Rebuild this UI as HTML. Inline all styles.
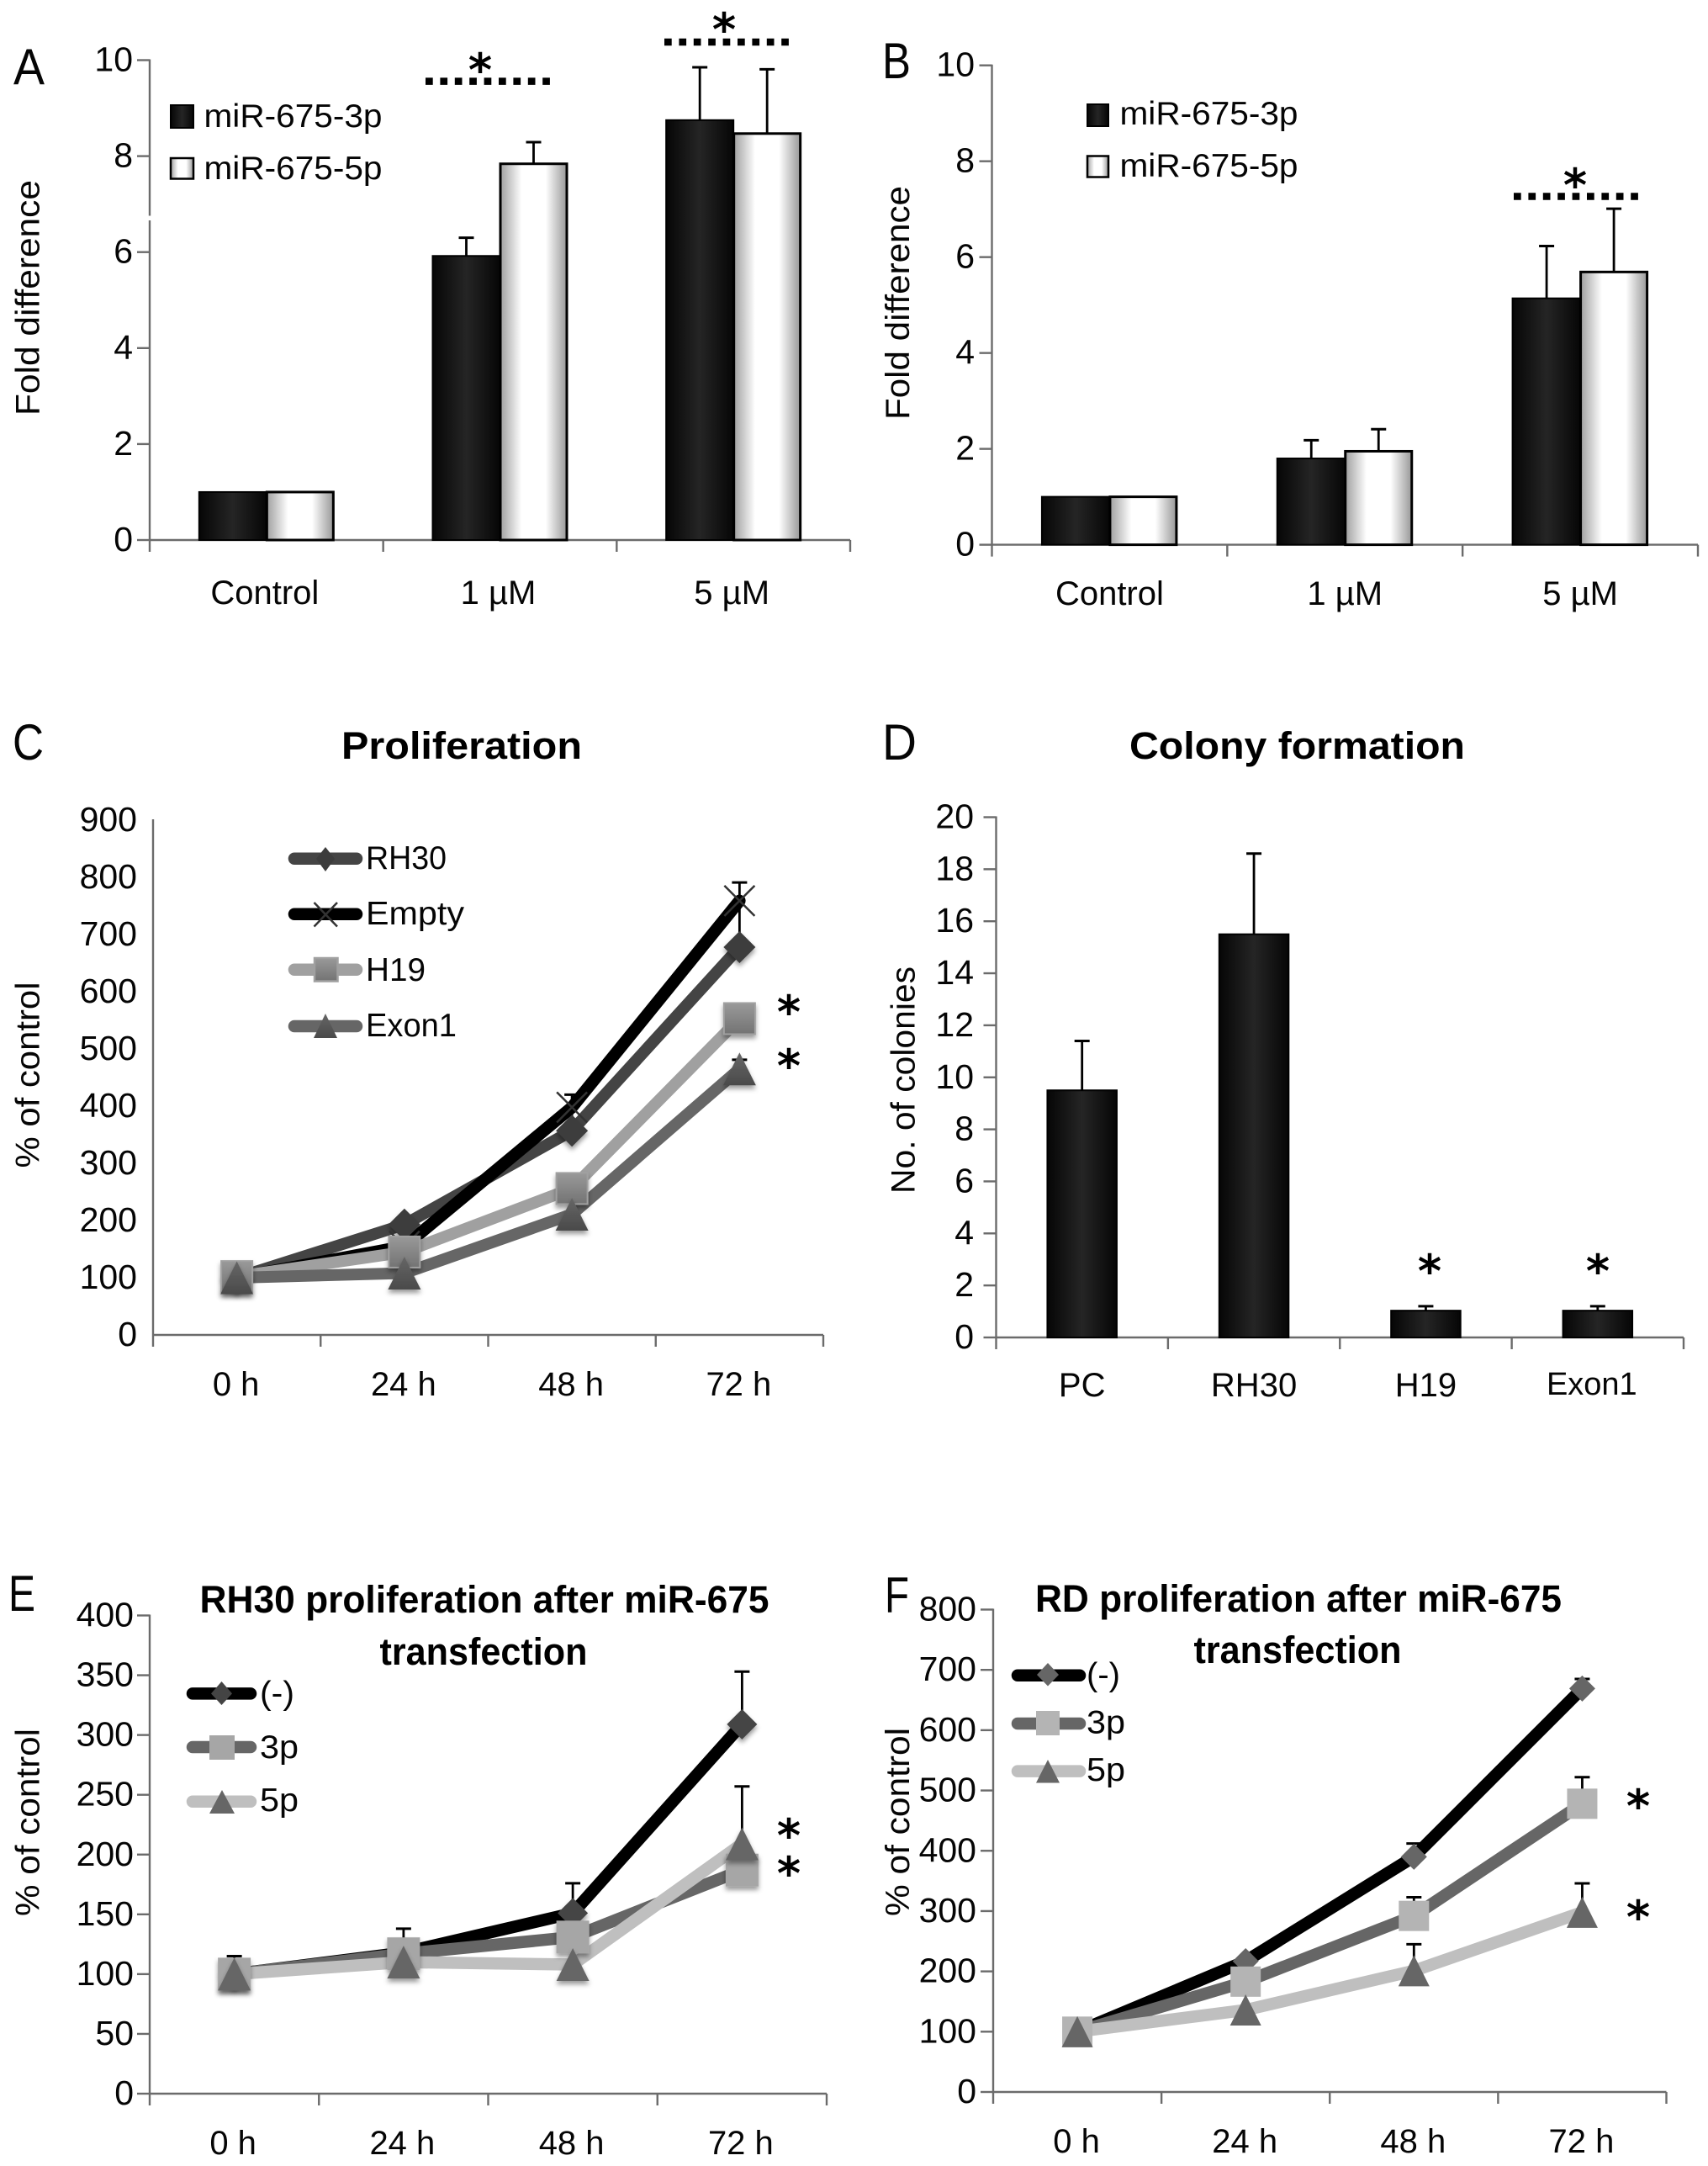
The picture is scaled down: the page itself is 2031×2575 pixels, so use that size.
<!DOCTYPE html>
<html lang="en">
<head>
<meta charset="utf-8">
<title>miR-675 figure panels A-F</title>
<style>
html,body{margin:0;padding:0;background:#fff;}
svg{display:block;}
text{font-family:"Liberation Sans",sans-serif;fill:#050505;}
.letter{font-size:60px;}
.tick{font-size:41px;}
.cat{font-size:40px;}
.ylab{font-size:40px;text-anchor:middle;}
.leg{font-size:39px;}
.title{font-size:45px;font-weight:bold;text-anchor:middle;fill:#000;}
.star{font-family:"DejaVu Sans",sans-serif;font-weight:bold;font-size:54px;text-anchor:middle;fill:#000;}
.dots{stroke:#000;stroke-width:8.5;stroke-dasharray:8.7 8.7;fill:none;}
.legline{stroke-width:14.5;stroke-linecap:round;fill:none;}
</style>
</head>
<body>
<svg id="figure" xmlns="http://www.w3.org/2000/svg" width="2031" height="2575" viewBox="0 0 2031 2575">
<defs>
<linearGradient id="gradDark" x1="0" x2="1" y1="0" y2="0"><stop offset="0" stop-color="#060606"/><stop offset=".5" stop-color="#252525"/><stop offset="1" stop-color="#060606"/></linearGradient>
<linearGradient id="gradLight" x1="0" x2="1" y1="0" y2="0"><stop offset="0" stop-color="#a0a0a0"/><stop offset=".32" stop-color="#fff"/><stop offset=".68" stop-color="#fff"/><stop offset="1" stop-color="#989898"/></linearGradient>
<linearGradient id="gradSquare" x1="0" x2="0" y1="0" y2="1"><stop offset="0" stop-color="#999"/><stop offset="1" stop-color="#737373"/></linearGradient>
<linearGradient id="gradTriangle" x1="0" x2="0" y1="0" y2="1"><stop offset="0" stop-color="#666"/><stop offset="1" stop-color="#4a4a4a"/></linearGradient>
<filter id="markerShadow" x="-40%" y="-40%" width="180%" height="190%"><feDropShadow dx="0" dy="4" stdDeviation="3" flood-color="#000" flood-opacity=".4"/></filter>
</defs>

<g id="charts"></g>

<rect x="174" y="256.5" width="8" height="5.5" fill="#fff"/>

<!-- Panel letters -->
<text class="letter" x="16" y="100" textLength="37" lengthAdjust="spacingAndGlyphs">A</text>
<text class="letter" x="1049" y="93" textLength="34" lengthAdjust="spacingAndGlyphs">B</text>
<text class="letter" x="15" y="903" textLength="37" lengthAdjust="spacingAndGlyphs">C</text>
<text class="letter" x="1049" y="903" textLength="41" lengthAdjust="spacingAndGlyphs">D</text>
<text class="letter" x="10" y="1915" textLength="32" lengthAdjust="spacingAndGlyphs">E</text>
<text class="letter" x="1052" y="1917" textLength="29" lengthAdjust="spacingAndGlyphs">F</text>

<!-- Titles -->
<text class="title" x="549" y="902" textLength="286" lengthAdjust="spacingAndGlyphs">Proliferation</text>
<text class="title" x="1542.5" y="902" textLength="399" lengthAdjust="spacingAndGlyphs">Colony formation</text>
<text class="title" x="576" y="1917" textLength="677" lengthAdjust="spacingAndGlyphs">RH30 proliferation after miR-675</text>
<text class="title" x="575" y="1979" textLength="247" lengthAdjust="spacingAndGlyphs">transfection</text>
<text class="title" x="1544" y="1916" textLength="626" lengthAdjust="spacingAndGlyphs">RD proliferation after miR-675</text>
<text class="title" x="1543" y="1977" textLength="247" lengthAdjust="spacingAndGlyphs">transfection</text>

<!-- Y axis titles -->
<text class="ylab" transform="translate(46.5,354) rotate(-90)" textLength="280" lengthAdjust="spacingAndGlyphs">Fold difference</text>
<text class="ylab" transform="translate(1081,360) rotate(-90)" textLength="278" lengthAdjust="spacingAndGlyphs">Fold difference</text>
<text class="ylab" transform="translate(46.5,1278) rotate(-90)" textLength="221" lengthAdjust="spacingAndGlyphs">% of control</text>
<text class="ylab" transform="translate(1087.5,1284) rotate(-90)" textLength="270" lengthAdjust="spacingAndGlyphs">No. of colonies</text>
<text class="ylab" transform="translate(46.5,2166.5) rotate(-90)" textLength="223" lengthAdjust="spacingAndGlyphs">% of control</text>
<text class="ylab" transform="translate(1081,2166) rotate(-90)" textLength="224" lengthAdjust="spacingAndGlyphs">% of control</text>

<!-- Significance bars and asterisks -->
<line class="dots" x1="506" y1="96.6" x2="654" y2="96.6"/>
<line class="dots" x1="790" y1="50" x2="938" y2="50"/>
<line class="dots" x1="1800" y1="233.5" x2="1948" y2="233.5"/>
<text class="star" x="571" y="102">*</text>
<text class="star" x="861" y="54">*</text>
<text class="star" x="1873" y="239">*</text>
<text class="star" x="938" y="1222">*</text>
<text class="star" x="938" y="1286">*</text>
<text class="star" x="1700" y="1530">*</text>
<text class="star" x="1900" y="1530">*</text>
<text class="star" x="938" y="2201">*</text>
<text class="star" x="938" y="2246">*</text>
<text class="star" x="1948" y="2166">*</text>
<text class="star" x="1948" y="2298">*</text>

<!-- Legend A -->
<g>
  <rect x="203" y="125" width="27" height="27" fill="url(#gradDark)" stroke="#000" stroke-width="2"/>
  <text class="leg" x="242.5" y="151" textLength="212" lengthAdjust="spacingAndGlyphs">miR-675-3p</text>
  <rect x="203" y="188" width="27" height="24.5" fill="url(#gradLight)" stroke="#000" stroke-width="2.5"/>
  <text class="leg" x="242.5" y="213" textLength="212" lengthAdjust="spacingAndGlyphs">miR-675-5p</text>
</g>
<!-- Legend B -->
<g>
  <rect x="1293" y="124" width="25" height="26" fill="url(#gradDark)" stroke="#000" stroke-width="2"/>
  <text class="leg" x="1331.5" y="148" textLength="212" lengthAdjust="spacingAndGlyphs">miR-675-3p</text>
  <rect x="1293" y="185.5" width="25" height="25" fill="url(#gradLight)" stroke="#000" stroke-width="2.5"/>
  <text class="leg" x="1331.5" y="210" textLength="212" lengthAdjust="spacingAndGlyphs">miR-675-5p</text>
</g>
<!-- Legend C -->
<g>
  <line class="legline" x1="350" y1="1020.7" x2="424" y2="1020.7" stroke="#444"/>
  <polygon points="387,1007 398,1021 387,1036 376,1021" fill="#3c3c3c"/>
  <text class="leg" x="435" y="1033" textLength="96" lengthAdjust="spacingAndGlyphs">RH30</text>
  <line class="legline" x1="350" y1="1086.7" x2="424" y2="1086.7" stroke="#000"/>
  <path d="M373.5 1073L401 1101.5M401 1073L373.5 1101.5" stroke="#333" stroke-width="2.5" fill="none"/>
  <text class="leg" x="435" y="1099" textLength="117" lengthAdjust="spacingAndGlyphs">Empty</text>
  <line class="legline" x1="350" y1="1152.7" x2="424" y2="1152.7" stroke="#a0a0a0"/>
  <rect x="374" y="1139" width="27.5" height="27.5" fill="url(#gradSquare)" stroke="#a0a0a0" stroke-width="2.5"/>
  <text class="leg" x="435" y="1166" textLength="71" lengthAdjust="spacingAndGlyphs">H19</text>
  <line class="legline" x1="350" y1="1220" x2="424" y2="1220" stroke="#666"/>
  <polygon points="387,1205 401,1234 373,1234" fill="url(#gradTriangle)"/>
  <text class="leg" x="435" y="1232" textLength="108" lengthAdjust="spacingAndGlyphs">Exon1</text>
</g>
<!-- Legend E -->
<g>
  <line class="legline" x1="229" y1="2013.4" x2="298" y2="2013.4" stroke="#000"/>
  <polygon points="263.5,1999 276,2013.4 263.5,2027 251,2013.4" fill="#444"/>
  <text class="leg" x="309" y="2026" textLength="41" lengthAdjust="spacingAndGlyphs">(-)</text>
  <line class="legline" x1="229" y1="2077" x2="298" y2="2077" stroke="#666"/>
  <rect x="249" y="2063" width="30" height="29" fill="#a6a6a6"/>
  <text class="leg" x="309" y="2090" textLength="46" lengthAdjust="spacingAndGlyphs">3p</text>
  <line class="legline" x1="229" y1="2141.7" x2="298" y2="2141.7" stroke="#bfbfbf"/>
  <polygon points="264,2128 279,2156 249,2156" fill="#666"/>
  <text class="leg" x="309" y="2153" textLength="46" lengthAdjust="spacingAndGlyphs">5p</text>
</g>
<!-- Legend F -->
<g>
  <line class="legline" x1="1210" y1="1991.7" x2="1284" y2="1991.7" stroke="#000"/>
  <polygon points="1246,1977 1259,1991 1246,2004.5 1233,1991" fill="#666"/>
  <text class="leg" x="1292" y="2004" textLength="40" lengthAdjust="spacingAndGlyphs">(-)</text>
  <line class="legline" x1="1210" y1="2049" x2="1284" y2="2049" stroke="#666"/>
  <rect x="1232" y="2034" width="28" height="29" fill="#b4b4b4"/>
  <text class="leg" x="1292" y="2060.5" textLength="46" lengthAdjust="spacingAndGlyphs">3p</text>
  <line class="legline" x1="1210" y1="2105.6" x2="1284" y2="2105.6" stroke="#bfbfbf"/>
  <polygon points="1246,2092 1260,2119.5 1232,2119.5" fill="#666"/>
  <text class="leg" x="1292" y="2117" textLength="46" lengthAdjust="spacingAndGlyphs">5p</text>
</g>
</svg>

<script>
// ---- Panel A data ----
const aCategories = ['Control', '1 µM', '5 µM'];
const aTicks = [0, 2, 4, 6, 8, 10];
const a3p = [1, 5.92, 8.75];
const a5p = [1, 7.84, 8.47];
const aErr3p = [0, 0.38, 1.10];
const aErr5p = [0, 0.45, 1.34];

// ---- Panel B data ----
const bCategories = ['Control', '1 µM', '5 µM'];
const bTicks = [0, 2, 4, 6, 8, 10];
const b3p = [1, 1.80, 5.14];
const b5p = [1, 1.95, 5.69];
const bErr3p = [0, 0.38, 1.09];
const bErr5p = [0, 0.46, 1.32];

// ---- Panel C data ----
const cCategories = ['0 h', '24 h', '48 h', '72 h'];
const cTicks = [0, 100, 200, 300, 400, 500, 600, 700, 800, 900];
const cRh30 = [100, 193, 357, 678];
const cEmpty = [100, 155, 398, 759];
const cH19 = [102, 145, 256, 553];
const cExon1 = [100, 108, 211, 465];
const cErrRh30 = [0, 0, 0, 0];
const cErrEmpty = [0, 0, 22, 32];
const cErrH19 = [0, 0, 0, 0];
const cErrExon1 = [0, 0, 0, 16];

// ---- Panel D data ----
const dCategories = ['PC', 'RH30', 'H19', 'Exon1'];
const dTicks = [0, 2, 4, 6, 8, 10, 12, 14, 16, 18, 20];
const dColonies = [9.5, 15.5, 1.03, 1.03];
const dErr = [1.9, 3.1, 0.17, 0.17];

// ---- Panel E data ----
const eCategories = ['0 h', '24 h', '48 h', '72 h'];
const eTicks = [0, 50, 100, 150, 200, 250, 300, 350, 400];
const eControl = [100, 118, 151, 309];
const e3p = [100, 117, 131, 187];
const e5p = [100, 110, 108, 209];
const eErrControl = [15, 20, 25, 44];
const eErr3p = [0, 10, 0, 0];
const eErr5p = [0, 0, 0, 48];

// ---- Panel F data ----
const fCategories = ['0 h', '24 h', '48 h', '72 h'];
const fTicks = [0, 100, 200, 300, 400, 500, 600, 700, 800];
const fControl = [100, 217, 390, 669];
const f3p = [100, 183, 292, 478];
const f5p = [100, 136, 201, 298];
const fErrControl = [0, 0, 22, 16];
const fErr3p = [0, 0, 31, 44];
const fErr5p = [0, 0, 44, 48];

const SVGNS = 'http://www.w3.org/2000/svg';
const AXIS_COLOR = '#6b6b6b';
const AXIS_WIDTH = 2.4;
const chartsRoot = document.getElementById('charts');

function make(tag, attrs, parent, name) {
  const el = document.createElementNS(SVGNS, tag);
  for (const k in attrs) el.setAttribute(k, attrs[k]);
  
  
  parent.appendChild(el);
  return el;
}

function linearScale(d0, d1, r0, r1) {
  return function (v) { return r0 + (v - d0) * (r1 - r0) / (d1 - d0); };
}

function drawAxes(id, cfg) {
  const g = make('g', {}, chartsRoot, 'chart-' + id);
  const yMax = cfg.ticks[cfg.ticks.length - 1];
  const y = linearScale(0, yMax, cfg.yBase, cfg.yTop);
  const n = cfg.categories.length;
  const step = (cfg.xRight - cfg.xLeft) / n;
  const band = function (i) { return cfg.xLeft + step * (i + 0.5); };
  const catDx = cfg.catDx || 0;

  make('line', {x1: cfg.xLeft, y1: cfg.yTop - 1, x2: cfg.xLeft, y2: cfg.yBase + 14, stroke: AXIS_COLOR, 'stroke-width': AXIS_WIDTH}, g, 'y-axis-' + id);
  make('line', {x1: cfg.xLeft, y1: cfg.yBase, x2: cfg.xRight, y2: cfg.yBase, stroke: AXIS_COLOR, 'stroke-width': AXIS_WIDTH}, g, 'x-axis-' + id);

  cfg.ticks.forEach(function (t) {
    if (cfg.leftTicks) {
      make('line', {x1: cfg.xLeft - 15, y1: y(t), x2: cfg.xLeft, y2: y(t), stroke: AXIS_COLOR, 'stroke-width': AXIS_WIDTH}, g, 'y-tick-' + id + '-' + t);
    }
    const label = make('text', {x: cfg.labelRight, y: y(t) + 13, 'text-anchor': 'end', 'class': 'tick'}, g, 'y-tick-label-' + id + '-' + t);
    label.textContent = String(t);
  });

  for (let i = 1; i <= n; i++) {
    const tx = cfg.xLeft + step * i;
    make('line', {x1: tx, y1: cfg.yBase, x2: tx, y2: cfg.yBase + 14, stroke: AXIS_COLOR, 'stroke-width': AXIS_WIDTH}, g, 'x-tick-' + id + '-' + i);
  }

  cfg.categories.forEach(function (c, i) {
    const isSmall = c === 'Exon1';
    const attrs = {x: band(i) + catDx + (isSmall ? -7 : 0), y: cfg.catBaseline + (isSmall ? -2 : 0), 'text-anchor': 'middle', 'class': 'cat'};
    const label = make('text', attrs, g, 'x-tick-label-' + id + '-' + i);
    if (isSmall) label.style.fontSize = '38px';
    label.textContent = c;
  });

  return {g: g, y: y, band: band};
}

function drawError(parent, x, yTop, yBottom, name) {
  const eg = make('g', {}, parent, name);
  make('line', {x1: x, y1: yBottom, x2: x, y2: yTop, stroke: '#000', 'stroke-width': 2.8}, eg, name + '-stem');
  make('line', {x1: x - 9, y1: yTop, x2: x + 9, y2: yTop, stroke: '#000', 'stroke-width': 3}, eg, name + '-cap');
}

function drawBars(ax, id, values, errs, offset, width, fill, stroke, strokeW) {
  values.forEach(function (v, i) {
    const cx = ax.band(i) + offset;
    if (errs[i] > 0) drawError(ax.g, cx, ax.y(v + errs[i]), ax.y(v), 'error-bar-' + id + '-' + i);
    make('rect', {x: cx - width / 2, y: ax.y(v), width: width, height: ax.y(0) - ax.y(v), fill: fill, stroke: stroke, 'stroke-width': strokeW}, ax.g, 'bar-' + id + '-' + i);
  });
}

function drawMarker(parent, kind, x, y, size, fill, edge, shadow, name) {
  const h = size / 2;
  const extra = shadow ? {filter: 'url(#markerShadow)'} : {};
  let attrs;
  if (kind === 'diamond') {
    attrs = Object.assign({points: [x, y - h, x + h, y, x, y + h, x - h, y].join(' '), fill: fill}, extra);
    make('polygon', attrs, parent, name);
  } else if (kind === 'square') {
    attrs = Object.assign({x: x - h + 1, y: y - h + 1, width: size - 2, height: size - 2, fill: fill, stroke: edge, 'stroke-width': 2}, extra);
    make('rect', attrs, parent, name);
  } else if (kind === 'triangle') {
    attrs = Object.assign({points: [x, y - h, x + h, y + h, x - h, y + h].join(' '), fill: fill}, extra);
    make('polygon', attrs, parent, name);
  } else {
    attrs = {d: 'M' + (x - h) + ' ' + (y - h) + 'L' + (x + h) + ' ' + (y + h) + 'M' + (x + h) + ' ' + (y - h) + 'L' + (x - h) + ' ' + (y + h), stroke: edge, 'stroke-width': 2.5, fill: 'none'};
    make('path', attrs, parent, name);
  }
}

function drawLines(ax, id, series, opts) {
  series.forEach(function (s) {
    s.values.forEach(function (v, i) {
      if (s.errs[i] > 0) {
        const lower = s.lowerStem ? v - s.errs[i] * s.lowerStem : v;
        drawError(ax.g, ax.band(i), ax.y(v + s.errs[i]), ax.y(lower), 'error-bar-' + id + '-' + s.key + '-' + i);
      }
    });
  });
  series.forEach(function (s) {
    const pts = s.values.map(function (v, i) { return ax.band(i) + ',' + ax.y(v); }).join(' ');
    make('polyline', {points: pts, fill: 'none', stroke: s.color, 'stroke-width': s.width, 'stroke-linejoin': 'round', 'stroke-linecap': 'round'}, ax.g, 'line-' + id + '-' + s.key);
  });
  series.forEach(function (s) {
    s.values.forEach(function (v, i) {
      drawMarker(ax.g, s.marker, ax.band(i), ax.y(v), s.size, s.fill, s.edge, opts.shadow, 'point-' + id + '-' + s.key + '-' + i);
    });
  });
}

// Panel A
const axA = drawAxes('a', {categories: aCategories, ticks: aTicks, xLeft: 178, xRight: 1011, yBase: 642, yTop: 71.5, leftTicks: true, labelRight: 158, catBaseline: 718, catDx: -2});
drawBars(axA, 'a-3p', a3p, aErr3p, -40, 80, 'url(#gradDark)', '#000', 2);
drawBars(axA, 'a-5p', a5p, aErr5p, 40, 79, 'url(#gradLight)', '#000', 3);

// Panel B
const axB = drawAxes('b', {categories: bCategories, ticks: bTicks, xLeft: 1179.5, xRight: 2019, yBase: 647.6, yTop: 77.7, leftTicks: true, labelRight: 1159, catBaseline: 719, catDx: 0});
drawBars(axB, 'b-3p', b3p, bErr3p, -40, 81, 'url(#gradDark)', '#000', 2);
drawBars(axB, 'b-5p', b5p, bErr5p, 40, 79, 'url(#gradLight)', '#000', 3);

// Panel C
const axC = drawAxes('c', {categories: cCategories, ticks: cTicks, xLeft: 182, xRight: 979, yBase: 1587, yTop: 975, leftTicks: false, labelRight: 163, catBaseline: 1659, catDx: -1});
drawLines(axC, 'c', [
  {key: 'rh30', values: cRh30, errs: cErrRh30, color: '#444', width: 14, marker: 'diamond', size: 38, fill: '#3c3c3c', edge: '#3c3c3c'},
  {key: 'empty', values: cEmpty, errs: cErrEmpty, color: '#000', width: 14.5, marker: 'cross', size: 36, fill: 'none', edge: '#333', lowerStem: 1.8},
  {key: 'h19', values: cH19, errs: cErrH19, color: '#a0a0a0', width: 14, marker: 'square', size: 39, fill: 'url(#gradSquare)', edge: '#a0a0a0'},
  {key: 'exon1', values: cExon1, errs: cErrExon1, color: '#666', width: 14, marker: 'triangle', size: 39, fill: 'url(#gradTriangle)', edge: '#565656'}
], {shadow: true});

// Panel D
const axD = drawAxes('d', {categories: dCategories, ticks: dTicks, xLeft: 1184.5, xRight: 2002, yBase: 1590, yTop: 971.5, leftTicks: true, labelRight: 1158, catBaseline: 1660, catDx: 0});
drawBars(axD, 'd', dColonies, dErr, 0, 82.5, 'url(#gradDark)', '#000', 2);

// Panel E
const axE = drawAxes('e', {categories: eCategories, ticks: eTicks, xLeft: 178, xRight: 983, yBase: 2489, yTop: 1920.5, leftTicks: true, labelRight: 159, catBaseline: 2561, catDx: -1.5});
drawLines(axE, 'e', [
  {key: 'control', values: eControl, errs: eErrControl, color: '#000', width: 14.5, marker: 'diamond', size: 36, fill: '#444', edge: '#444'},
  {key: '3p', values: e3p, errs: eErr3p, color: '#666', width: 14.5, marker: 'square', size: 39, fill: '#a6a6a6', edge: '#a6a6a6'},
  {key: '5p', values: e5p, errs: eErr5p, color: '#bfbfbf', width: 14.5, marker: 'triangle', size: 39, fill: '#666', edge: '#666'}
], {shadow: true});

// Panel F
const axF = drawAxes('f', {categories: fCategories, ticks: fTicks, xLeft: 1181, xRight: 1981.5, yBase: 2487, yTop: 1913.5, leftTicks: true, labelRight: 1161, catBaseline: 2559, catDx: -1});
drawLines(axF, 'f', [
  {key: 'control', values: fControl, errs: fErrControl, color: '#000', width: 14.5, marker: 'diamond', size: 31, fill: '#666', edge: '#666'},
  {key: '3p', values: f3p, errs: fErr3p, color: '#666', width: 14.5, marker: 'square', size: 36, fill: '#b4b4b4', edge: '#b4b4b4'},
  {key: '5p', values: f5p, errs: fErr5p, color: '#bfbfbf', width: 14.5, marker: 'triangle', size: 37, fill: '#666', edge: '#666'}
], {shadow: false});
</script>
</body>
</html>
